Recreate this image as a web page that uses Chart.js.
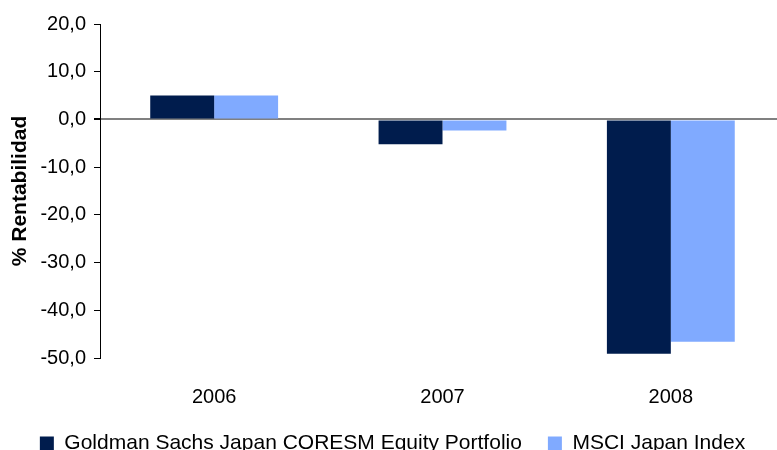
<!DOCTYPE html>
<html>
<head>
<meta charset="utf-8">
<script src="https://cdn.jsdelivr.net/npm/chart.js@4/dist/chart.umd.min.js"></script>
<style>
    html, body { margin: 0; padding: 0; background: #fff; overflow: hidden; }
    #wrap { width: 777px; height: 450px; overflow: hidden; }
</style>
</head>
<body>
<div id="wrap"><canvas id="chart" width="785" height="480"></canvas></div>
<script>
const years = ['2006', '2007', '2008'];
const fundValues = [5.0, -5.2, -49.1];
const indexValues = [5.0, -2.3, -46.6];
const yTicks = [20, 10, 0, -10, -20, -30, -40, -50];

const chart = document.querySelector('#chart').getContext('2d');
const family = "'Liberation Sans', Arial, sans-serif";

new Chart(chart, {
    type: 'bar',
    data: {
        labels: years,
        datasets: [
            {
                label: 'Goldman Sachs Japan CORESM Equity Portfolio',
                data: fundValues,
                backgroundColor: '#001c4d',
                categoryPercentage: 0.56,
                barPercentage: 1
            },
            {
                label: 'MSCI Japan Index',
                data: indexValues,
                backgroundColor: '#80aaff',
                categoryPercentage: 0.56,
                barPercentage: 1
            }
        ]
    },
    options: {
        responsive: false,
        animation: false,
        layout: { padding: { top: 24, bottom: 16, left: 0, right: 0 } },
        plugins: {
            tooltip: { enabled: false },
            legend: {
                position: 'bottom',
                labels: { font: { family: family, size: 21 }, color: '#000', boxWidth: 14, boxHeight: 14, padding: 26 }
            }
        },
        scales: {
            x: {
                grid: { display: false },
                border: { display: false },
                ticks: { font: { family: family, size: 20 }, color: '#000', padding: 19 },
                afterFit: (scale) => { scale.height = 49; }
            },
            y: {
                min: -50,
                max: 20,
                afterBuildTicks: (scale) => { scale.ticks = yTicks.map(v => ({ value: v })); },
                afterFit: (scale) => { scale.width = 100; },
                border: { display: true, color: '#000', width: 1 },
                grid: {
                    drawOnChartArea: true,
                    drawTicks: true,
                    tickLength: 6,
                    tickColor: '#000',
                    color: (c) => c.tick && c.tick.value === 0 ? '#808080' : 'rgba(0,0,0,0)',
                    lineWidth: (c) => c.tick && c.tick.value === 0 ? 2 : 1
                },
                ticks: {
                    font: { family: family, size: 20 },
                    color: '#000',
                    padding: 8,
                    callback: (v) => v.toFixed(1).replace('.', ',')
                },
                title: {
                    display: true,
                    text: '% Rentabilidad',
                    color: '#000',
                    font: { family: family, size: 21, weight: 'bold' },
                    padding: { top: 8, bottom: 0 }
                }
            }
        }
    }
})
</script>
</body>
</html>
